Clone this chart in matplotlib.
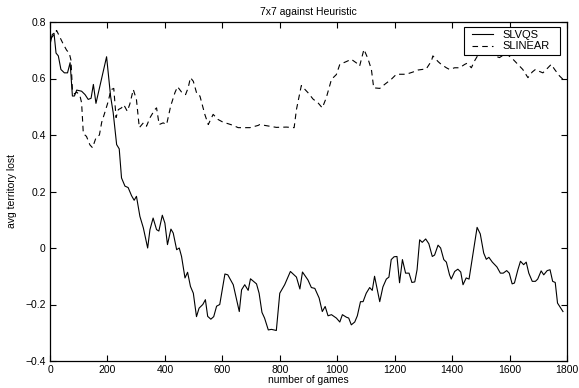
import matplotlib
matplotlib.use("Agg")
import matplotlib.pyplot as plt
from matplotlib.legend_handler import HandlerLine2D

slvqs_x = [0, 8, 14, 21, 29, 38, 50, 61, 70, 78, 85, 93, 110, 122, 133, 143, 151, 160, 197, 211, 220, 232, 241, 249, 261, 272, 284, 293, 301, 313, 325, 340, 348, 359, 371, 379, 391, 400, 409, 421, 429, 441, 450, 458, 470, 479, 489, 499, 510, 519, 532, 541, 549, 560, 570, 580, 591, 609, 619, 638, 659, 667, 678, 690, 698, 719, 728, 738, 747, 760, 771, 788, 800, 817, 837, 858, 870, 879, 898, 910, 922, 937, 948, 958, 968, 980, 997, 1009, 1018, 1032, 1040, 1049, 1061, 1070, 1081, 1090, 1101, 1113, 1122, 1130, 1148, 1159, 1171, 1180, 1188, 1198, 1208, 1217, 1227, 1238, 1250, 1260, 1270, 1278, 1287, 1296, 1308, 1319, 1331, 1339, 1351, 1360, 1371, 1380, 1391, 1397, 1409, 1420, 1430, 1438, 1449, 1459, 1472, 1487, 1498, 1510, 1519, 1528, 1540, 1556, 1568, 1578, 1590, 1599, 1609, 1617, 1629, 1638, 1649, 1658, 1667, 1679, 1690, 1698, 1710, 1719, 1731, 1741, 1750, 1759, 1767, 1786]
slvqs_y = [0.72, 0.756, 0.76, 0.69, 0.68, 0.632, 0.62, 0.62, 0.656, 0.538, 0.538, 0.559, 0.555, 0.543, 0.526, 0.53, 0.579, 0.512, 0.677, 0.537, 0.479, 0.366, 0.351, 0.248, 0.219, 0.214, 0.185, 0.169, 0.183, 0.112, 0.071, 0.0, 0.065, 0.106, 0.065, 0.06, 0.116, 0.088, 0.012, 0.067, 0.053, -0.006, 0.0, -0.03, -0.106, -0.086, -0.136, -0.16, -0.243, -0.213, -0.2, -0.183, -0.242, -0.252, -0.243, -0.206, -0.2, -0.092, -0.095, -0.13, -0.225, -0.148, -0.13, -0.15, -0.109, -0.127, -0.16, -0.228, -0.248, -0.29, -0.288, -0.292, -0.16, -0.13, -0.083, -0.103, -0.145, -0.085, -0.113, -0.14, -0.143, -0.177, -0.225, -0.207, -0.24, -0.236, -0.248, -0.262, -0.236, -0.245, -0.248, -0.272, -0.262, -0.24, -0.19, -0.19, -0.16, -0.14, -0.15, -0.1, -0.19, -0.138, -0.11, -0.103, -0.041, -0.031, -0.03, -0.123, -0.041, -0.089, -0.089, -0.122, -0.12, -0.077, 0.029, 0.02, 0.032, 0.015, -0.03, -0.025, 0.01, 0.0, -0.041, -0.05, -0.095, -0.11, -0.083, -0.075, -0.085, -0.13, -0.106, -0.11, -0.024, 0.073, 0.05, -0.018, -0.04, -0.033, -0.05, -0.067, -0.089, -0.089, -0.08, -0.089, -0.127, -0.124, -0.077, -0.047, -0.059, -0.05, -0.089, -0.118, -0.118, -0.11, -0.081, -0.095, -0.08, -0.077, -0.118, -0.122, -0.195, -0.225]

slinear_x = [0, 10, 23, 35, 46, 58, 67, 73, 78, 85, 93, 104, 110, 116, 127, 139, 148, 160, 172, 180, 191, 203, 212, 222, 230, 238, 249, 257, 269, 278, 290, 301, 311, 325, 336, 348, 365, 371, 380, 394, 406, 420, 435, 444, 458, 472, 481, 489, 499, 512, 522, 533, 539, 551, 568, 585, 603, 620, 638, 655, 696, 725, 730, 765, 788, 823, 850, 858, 875, 898, 916, 933, 948, 962, 980, 997, 1009, 1032, 1049, 1067, 1078, 1093, 1107, 1119, 1127, 1148, 1165, 1188, 1206, 1217, 1240, 1264, 1281, 1310, 1328, 1333, 1351, 1362, 1380, 1391, 1409, 1426, 1444, 1452, 1467, 1478, 1493, 1501, 1519, 1548, 1565, 1577, 1588, 1612, 1629, 1646, 1664, 1679, 1690, 1702, 1716, 1728, 1745, 1757, 1774, 1786]
slinear_y = [0.74, 0.75, 0.77, 0.745, 0.722, 0.70, 0.69, 0.665, 0.56, 0.545, 0.552, 0.54, 0.514, 0.405, 0.395, 0.365, 0.355, 0.39, 0.40, 0.445, 0.48, 0.52, 0.56, 0.565, 0.462, 0.49, 0.496, 0.507, 0.484, 0.51, 0.561, 0.525, 0.426, 0.443, 0.431, 0.461, 0.49, 0.496, 0.437, 0.443, 0.437, 0.502, 0.55, 0.571, 0.552, 0.543, 0.567, 0.603, 0.59, 0.543, 0.538, 0.496, 0.473, 0.437, 0.473, 0.455, 0.445, 0.44, 0.434, 0.426, 0.426, 0.434, 0.437, 0.431, 0.427, 0.428, 0.426, 0.49, 0.575, 0.55, 0.527, 0.514, 0.496, 0.532, 0.597, 0.614, 0.65, 0.66, 0.668, 0.655, 0.644, 0.703, 0.67, 0.632, 0.567, 0.565, 0.579, 0.597, 0.615, 0.615, 0.615, 0.623, 0.63, 0.634, 0.662, 0.68, 0.66, 0.65, 0.638, 0.632, 0.638, 0.638, 0.65, 0.654, 0.638, 0.662, 0.688, 0.697, 0.69, 0.68, 0.674, 0.682, 0.689, 0.668, 0.65, 0.632, 0.603, 0.623, 0.632, 0.626, 0.62, 0.632, 0.65, 0.632, 0.609, 0.597]

x_ticks = [0, 200, 400, 600, 800, 1000, 1200, 1400, 1600, 1800]
y_ticks = [-0.4, -0.2, 0, 0.2, 0.4, 0.6, 0.8]
y_tick_labels = ["\u22120.4", "\u22120.2", "0", "0.2", "0.4", "0.6", "0.8"]

plt.rcParams['font.family'] = ['Liberation Sans', 'DejaVu Sans']
plt.rcParams['lines.scale_dashes'] = False
fs = 7.5
lfs = 8

W, H = 579, 388
ax_l, ax_r, ax_t, ax_b = 50, 567, 22, 361

fig = plt.figure(figsize=(W/100, H/100), dpi=100)
ax = fig.add_axes([ax_l/W, 1-ax_b/H, (ax_r-ax_l)/W, (ax_b-ax_t)/H])
l1, = ax.plot(slvqs_x, slvqs_y, color='black', lw=0.8, label='SLVQS')
l2, = ax.plot(slinear_x, slinear_y, color='black', lw=0.8, linestyle=(0, (4, 3)), label='SLINEAR')
ax.set_xlim(0, 1800)
ax.set_ylim(-0.4, 0.8)
ax.set_xticks(x_ticks)
ax.set_xticklabels([str(t) for t in x_ticks], fontsize=fs)
ax.set_yticks(y_ticks)
ax.set_yticklabels(y_tick_labels, fontsize=fs)
ax.tick_params(direction='in', top=True, right=True, length=4, width=0.8, pad=3)
for s in ax.spines.values():
    s.set_linewidth(0.9)
ax.set_title('7x7 against Heuristic', fontsize=fs, pad=5)
ax.set_xlabel('number of games', fontsize=fs, labelpad=0)
ax.set_ylabel('avg territory lost', fontsize=fs, labelpad=6)

# legend box: x 464..560 px, top at 27 px
bx0 = (464 - ax_l) / (ax_r - ax_l)
bw = (560 - 464) / (ax_r - ax_l)
btop = (ax_b - 27) / (ax_b - ax_t)
hmap = {l1: HandlerLine2D(xpad=0.42), l2: HandlerLine2D(xpad=0.42)}
leg = ax.legend(loc='upper left', bbox_to_anchor=(bx0, 0, bw, btop), mode='expand',
                fontsize=lfs, frameon=True, fancybox=False, handler_map=hmap,
                edgecolor='black', framealpha=1, handlelength=2.32, borderpad=0.3,
                labelspacing=0.1, borderaxespad=0, handletextpad=0.81)
leg.get_frame().set_linewidth(0.8)
fig.savefig('out.png', dpi=100)
